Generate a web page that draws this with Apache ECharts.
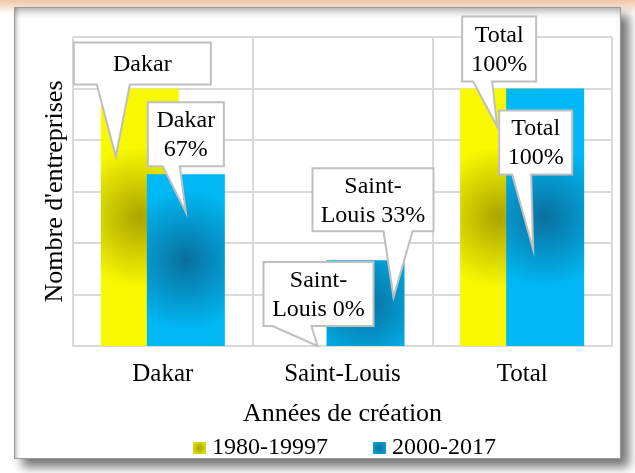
<!DOCTYPE html>
<html>
<head>
<meta charset="utf-8">
<script src="https://cdn.jsdelivr.net/npm/echarts@6/dist/echarts.min.js"></script>
<style>
  html, body { margin: 0; padding: 0; }
  body {
    width: 635px; height: 473px; position: relative; overflow: hidden;
    background: linear-gradient(to bottom, #f1c7a6 0px, #f7e1d2 7px, #ffffff 14px);
  }
  .frame {
    position: absolute; left: 14px; top: 7px; width: 605px; height: 450px;
    background: #fff;
    border: 1px solid #9a9a9a;
    box-shadow: inset 0 8px 8px -5px rgba(0,0,0,0.35), inset 5px 0 5px -4px rgba(0,0,0,0.3),
      8px 8px 10px rgba(0,0,0,0.55);
  }
  .tail {
    position: absolute; top: -37px; line-height: 34px;
    font: bold 34px "Liberation Serif", serif; color: #000;
  }
  #chart { position: absolute; left: 0; top: 0; width: 635px; height: 473px; }
</style>
</head>
<body>
<div class="tail" style="left:66px">p</div>
<div class="tail" style="left:120px">p</div>
<div class="tail" style="left:596px">p</div>
<div class="frame"></div>
<div id="chart"></div>
<script>
const categories = ['Dakar', 'Saint-Louis', 'Total']
const seriesNames = ['1980-19997', '2000-2017']
const values1980 = [100, 0, 100]
const values2000 = [66.7, 33.3, 100]
const labels1980 = ['Dakar', 'Saint-\nLouis 0%', 'Total\n100%']
const labels2000 = ['Dakar\n67%', 'Saint-\nLouis 33%', 'Total\n100%']

// callout boxes, relative to the top centre of each bar:
// box = [dx, dy, w, h], base = pointer foot (from box left), tip = [dx, dy]
const calloutLayout = [
  [
    { box: [-66, -46, 137, 42], base: [23, 56], tip: [-24, 68] },
    { box: [-56, -84, 110, 64], base: [9, 48], tip: [-2, 0] },
    { box: [-37, -72, 74, 65], base: [11, 30], tip: [-2, 38] },
  ],
  [
    { box: [-38, -72, 76, 64], base: [15, 32], tip: [0, 38] },
    { box: [-53, -92, 121, 63], base: [71, 100], tip: [28, 37] },
    { box: [-46, 22, 73, 64], base: [13, 32], tip: [-12, 161] },
  ],
]

const FONT = '"Liberation Serif", "Times New Roman", serif'
const BAR_W = 78
const BAR_GAP = -0.41
const barShift = (BAR_W + BAR_W * BAR_GAP) / 2

const yellow = new echarts.graphic.RadialGradient(0.5, 0.5, 0.9, [
  { offset: 0, color: '#a9a500' },
  { offset: 1, color: '#f8f800' },
])
const blue = new echarts.graphic.RadialGradient(0.5, 0.5, 0.9, [
  { offset: 0, color: '#0a6f9d' },
  { offset: 1, color: '#00b8f4' },
])

const calloutData = []
;[values1980, values2000].forEach((vals, s) => {
  vals.forEach((v, i) => calloutData.push([i, v, s]))
})
const calloutText = [labels1980, labels2000]

function renderCallout(params, api) {
  const ci = api.value(0)
  const s = api.value(2)
  const p = api.coord([ci, api.value(1)])
  const ax = p[0] + (s === 0 ? -barShift : barShift)
  const ay = p[1]
  const lay = calloutLayout[s][ci]
  const x0 = ax + lay.box[0]
  const y0 = ay + lay.box[1]
  const x1 = x0 + lay.box[2]
  const y1 = y0 + lay.box[3]
  const tx = ax + lay.tip[0]
  const ty = ay + lay.tip[1]
  return {
    type: 'group',
    children: [
      {
        type: 'polygon',
        shape: {
          points: [
            [x0, y0], [x1, y0], [x1, y1], [x0 + lay.base[1], y1],
            [tx, ty], [x0 + lay.base[0], y1], [x0, y1],
          ],
        },
        style: { fill: '#fff', stroke: '#bfbfbf', lineWidth: 2 },
      },
      {
        type: 'text',
        style: {
          text: calloutText[s][ci],
          x: (x0 + x1) / 2,
          y: (y0 + y1) / 2 + 1,
          align: 'center',
          verticalAlign: 'middle',
          font: '24px ' + FONT,
          lineHeight: 29,
          fill: '#000',
        },
      },
    ],
  }
}

const chart = echarts.init(document.getElementById('chart'))
chart.setOption({
  animation: false,
  textStyle: { fontFamily: FONT },
  grid: { left: 73, right: 23, top: 37, bottom: 127 },
  legend: {
    data: seriesNames,
    left: 193,
    top: 436,
    padding: 0,
    itemWidth: 13,
    itemHeight: 12,
    itemGap: 45,
    icon: 'rect',
    textStyle: { fontSize: 24, color: '#000', fontFamily: FONT, padding: [0, 0, 0, 1] },
  },
  xAxis: {
    type: 'category',
    data: categories,
    name: 'Années de création',
    nameLocation: 'middle',
    nameGap: 55,
    nameTextStyle: { fontSize: 26, color: '#000', fontFamily: FONT },
    axisLine: { lineStyle: { color: '#d9d9d9', width: 2 } },
    axisTick: { show: false },
    axisLabel: { fontSize: 25, color: '#000', fontFamily: FONT, margin: 16 },
    splitLine: { show: true, interval: 0, lineStyle: { color: '#d9d9d9', width: 2 } },
  },
  yAxis: {
    type: 'value',
    min: 0,
    max: 120,
    interval: 20,
    name: "Nombre d'entreprises",
    nameLocation: 'middle',
    nameGap: 5,
    nameTextStyle: { fontSize: 26, color: '#000', fontFamily: FONT },
    axisLine: { show: false },
    axisTick: { show: false },
    axisLabel: { show: false },
    splitLine: { lineStyle: { color: '#d9d9d9', width: 2 } },
  },
  series: [
    {
      name: seriesNames[0],
      type: 'bar',
      data: values1980,
      barWidth: BAR_W,
      barGap: (BAR_GAP * 100) + '%',
      itemStyle: { color: yellow },
    },
    {
      name: seriesNames[1],
      type: 'bar',
      data: values2000,
      barWidth: BAR_W,
      itemStyle: { color: blue },
    },
    {
      type: 'custom',
      renderItem: renderCallout,
      data: calloutData,
      encode: { x: 0, y: 1 },
      z: 10,
      silent: true,
      clip: false,
    },
  ],
})
</script>
</body>
</html>
